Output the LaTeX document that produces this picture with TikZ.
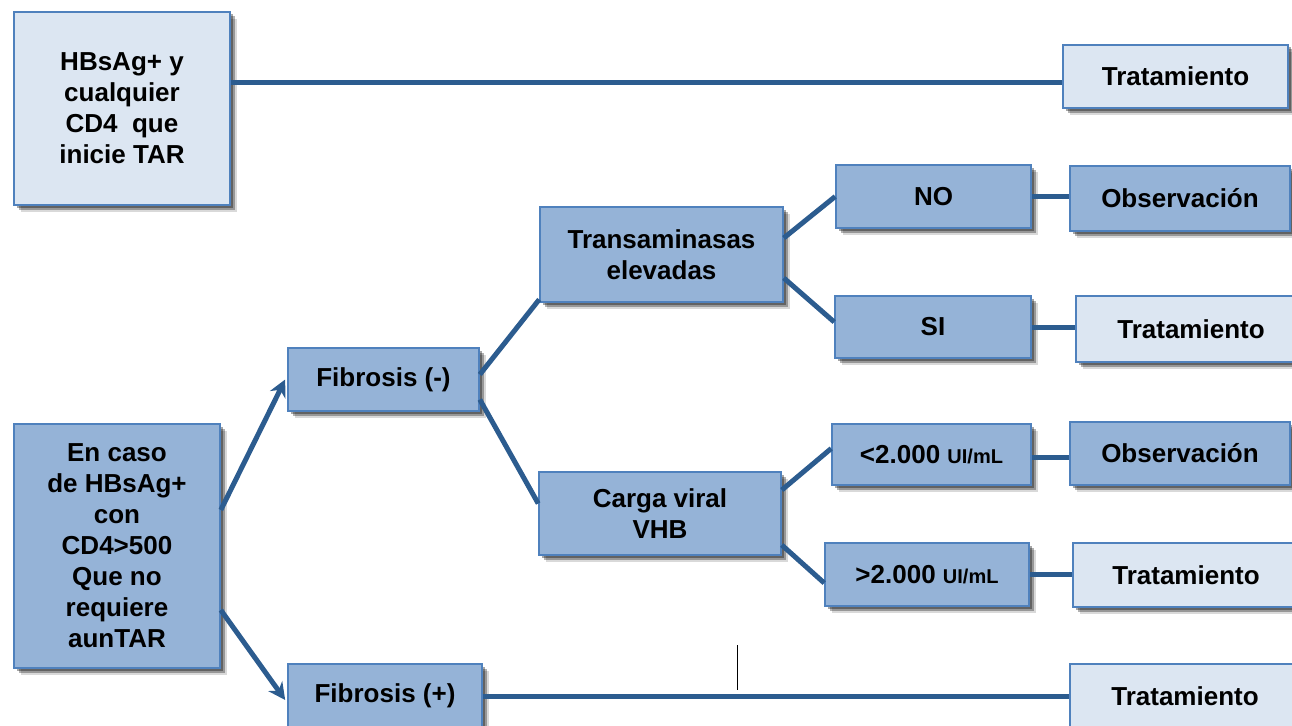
\documentclass[tikz,border=0pt]{standalone}
\usepackage{fontspec}
\setmainfont{Liberation Sans}
\usetikzlibrary{shadows,arrows.meta}
\definecolor{lightfill}{HTML}{DCE6F2}
\definecolor{midfill}{HTML}{95B3D7}
\definecolor{bordercol}{HTML}{4F81BD}
\definecolor{conncol}{HTML}{2C5C8F}
\newcommand{\smallunit}[1]{{\fontsize{20}{22}\selectfont #1}}
\tikzset{
  box/.style={draw=bordercol, line width=1.6pt, align=center, inner sep=0pt,
    font=\fontsize{26}{31}\selectfont\bfseries,
    drop shadow={shadow xshift=7pt, shadow yshift=-7pt, fill=black, opacity=0.15},
    drop shadow={shadow xshift=4.5pt, shadow yshift=-4.5pt, fill=black, opacity=0.3},
    drop shadow={shadow xshift=2.5pt, shadow yshift=-2.5pt, fill=black, opacity=0.35}},
  lightbox/.style={box, fill=lightfill},
  midbox/.style={box, fill=midfill},
  conn/.style={draw=conncol, line width=5pt},
  arr/.style={conn, -{Stealth[length=17pt,width=17pt]}},
}
\begin{document}
\begin{tikzpicture}[x=1pt,y=-1pt]
\useasboundingbox (0,0) rectangle (1292,725);
\node[lightbox, minimum width=216pt, minimum height=193pt] (hb) at (122,108.5) {HBsAg+ y\\cualquier\\CD4\ \ que\\inicie TAR};
\node[lightbox, minimum width=225pt, minimum height=63pt] (t1) at (1175.5,76.5) {Tratamiento};
\node[midbox, minimum width=243pt, minimum height=95pt] (tr) at (661.5,254.5) {Transaminasas\\elevadas};
\node[midbox, minimum width=195pt, minimum height=63pt] (no) at (933.5,196.5) {NO};
\node[midbox, minimum width=220pt, minimum height=65pt] (ob1) at (1180,198.5) {Observación};
\node[midbox, minimum width=196pt, minimum height=62pt] (si) at (933,327) {SI};
\node[lightbox, minimum width=230pt, minimum height=66pt] (t2) at (1191,329) {Tratamiento};
\node[midbox, minimum width=191pt, minimum height=63pt] (fm) at (383.5,379.5) {Fibrosis (-)};
\node[midbox, minimum width=206pt, minimum height=244pt] (ec) at (117,546) {En caso\\de HBsAg+\\con\\CD4>500\\Que no\\requiere\\aunTAR};
\node[midbox, minimum width=242pt, minimum height=83pt] (cv) at (660,513.5) {Carga viral\\VHB};
\node[midbox, minimum width=199pt, minimum height=61pt] (lt) at (931.5,454.5) {<2.000 \smallunit{UI/mL}};
\node[midbox, minimum width=220pt, minimum height=63pt] (ob2) at (1180,453.5) {Observación};
\node[midbox, minimum width=204pt, minimum height=63pt] (gt) at (927,574.5) {>2.000 \smallunit{UI/mL}};
\node[lightbox, minimum width=226pt, minimum height=64pt] (t3) at (1186,575) {Tratamiento};
\node[midbox, minimum width=194pt, minimum height=64pt] (fp) at (385,696) {Fibrosis (+)};
\node[lightbox, minimum width=230pt, minimum height=64pt] (t4) at (1185,696) {Tratamiento};
% connectors
\draw[conn] ([yshift=26.5pt]hb.east) -- ([yshift=26.5pt]hb.east -| t1.west);
\draw[arr] ([yshift=36pt]ec.east) -- ([xshift=-2pt]fm.west);
\draw[arr] ([yshift=-64pt]ec.east) -- ([xshift=-2pt,yshift=-4pt]fp.west);
\draw[conn] ([yshift=5pt]fm.east) -- ([yshift=-45pt]tr.west);
\draw[conn] ([yshift=-20pt]fm.east) -- ([yshift=10pt]cv.west);
\draw[conn] ([yshift=16.5pt]tr.east) -- (no.west);
\draw[conn] ([yshift=-23.5pt]tr.east) -- ([yshift=5pt]si.west);
\draw[conn] (no.east) -- (no.east -| ob1.west);
\draw[conn] (si.east) -- (si.east -| t2.west);
\draw[conn] ([yshift=23.5pt]cv.east) -- ([yshift=6pt]lt.west);
\draw[conn] ([yshift=-31.5pt]cv.east) -- ([yshift=-8.5pt]gt.west);
\draw[conn] ([yshift=-3pt]lt.east) -- ([yshift=-3pt]lt.east -| ob2.west);
\draw[conn] (gt.east) -- (gt.east -| t3.west);
\draw[conn] (fp.east) -- (fp.east -| t4.west);
% stray thin mark
\coordinate (m1) at (737,645);
\coordinate (m2) at (737,690);
\draw[line width=0.8pt] (m1) -- (m2);
\end{tikzpicture}
\end{document}
